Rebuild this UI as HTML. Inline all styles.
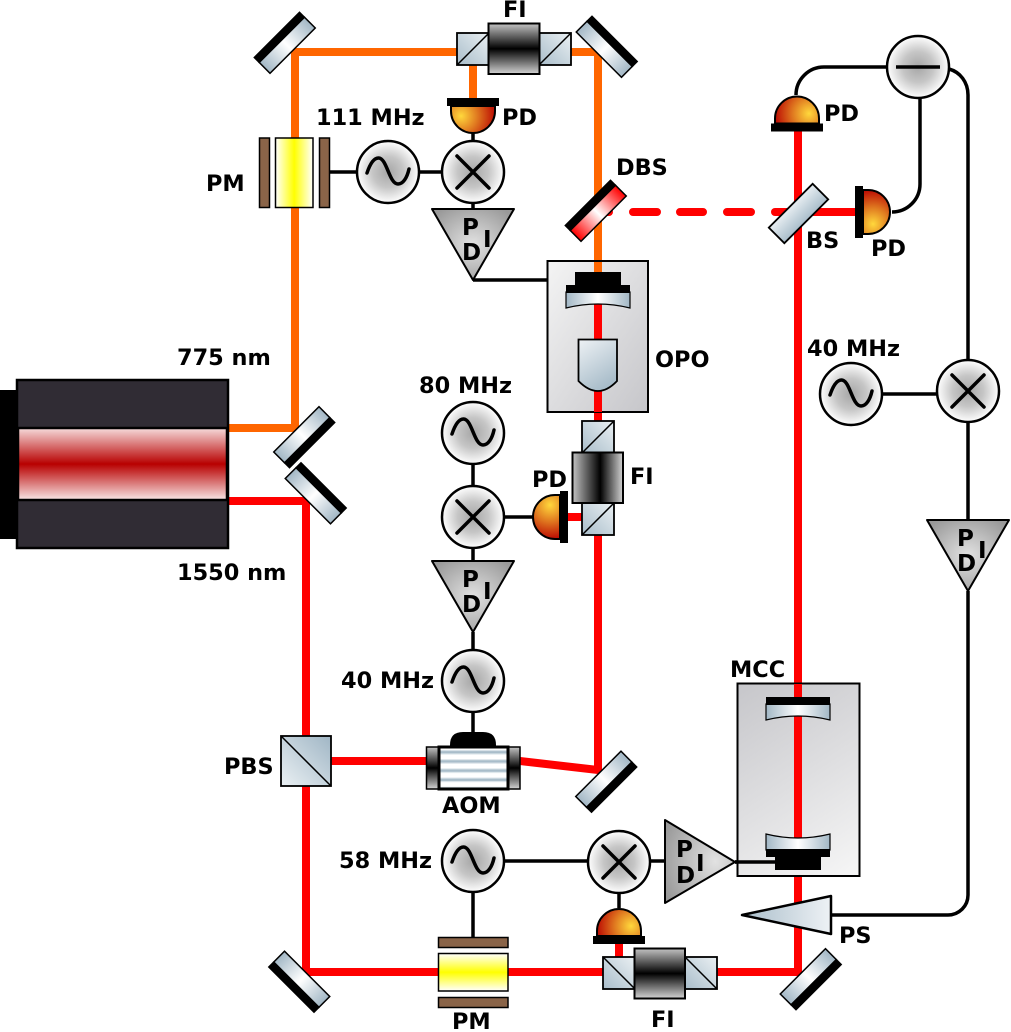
<!DOCTYPE html>
<html><head><meta charset="utf-8"><style>
html,body{margin:0;padding:0;background:#fff}
svg{display:block}
text{font-family:"DejaVu Sans",sans-serif;font-weight:bold;font-size:22.4px;fill:#000}
.pid{font-size:23px}
</style></head><body>
<svg width="1011" height="1032" viewBox="0 0 1011 1032" xmlns="http://www.w3.org/2000/svg">
<defs>
<radialGradient id="cg"><stop offset="0" stop-color="#a6a6a6"/><stop offset=".5" stop-color="#c6c6c6"/><stop offset="1" stop-color="#fff"/></radialGradient>
<linearGradient id="mg"><stop offset="0" stop-color="#a2b7c5"/><stop offset=".5" stop-color="#fff"/><stop offset="1" stop-color="#a2b7c5"/></linearGradient>
<linearGradient id="rg"><stop offset="0" stop-color="#f00"/><stop offset=".5" stop-color="#fff"/><stop offset="1" stop-color="#f00"/></linearGradient>
<linearGradient id="bsg" x1="0" y1="0" x2="0" y2="1"><stop offset="0" stop-color="#e8eef2"/><stop offset="1" stop-color="#a9bdca"/></linearGradient>
<linearGradient id="cube" x1="1" y1="0" x2="0" y2="1"><stop offset="0" stop-color="#eaf0f3"/><stop offset="1" stop-color="#a9bdca"/></linearGradient>
<linearGradient id="pbs" x1="1" y1="0" x2="0" y2="1"><stop offset="0" stop-color="#a0b6c5"/><stop offset="1" stop-color="#eaf0f3"/></linearGradient>
<linearGradient id="lens" x1="0" y1="0" x2=".5" y2="1"><stop offset="0" stop-color="#eef2f5"/><stop offset="1" stop-color="#a9bdca"/></linearGradient>
<linearGradient id="fiv" x1="0" y1="0" x2="0" y2="1"><stop offset="0" stop-color="#c4c4c4"/><stop offset=".5" stop-color="#000"/><stop offset="1" stop-color="#d4d4d4"/></linearGradient>
<linearGradient id="fih"><stop offset="0" stop-color="#c4c4c4"/><stop offset=".55" stop-color="#000"/><stop offset="1" stop-color="#d4d4d4"/></linearGradient>
<radialGradient id="pidg" cx=".5" cy=".5" r=".62"><stop offset="0" stop-color="#e2e2e2"/><stop offset="1" stop-color="#999"/></radialGradient>
<radialGradient id="pidh" cx=".72" cy=".5" r=".8"><stop offset="0" stop-color="#e2e2e2"/><stop offset="1" stop-color="#999"/></radialGradient>
<linearGradient id="opo" x1="0" y1="0" x2="1" y2="1"><stop offset="0" stop-color="#f4f4f4"/><stop offset="1" stop-color="#c6c6ca"/></linearGradient>
<linearGradient id="mcc" gradientUnits="userSpaceOnUse" x1="737" y1="683" x2="859" y2="876"><stop offset="0" stop-color="#c6c6ca"/><stop offset="1" stop-color="#f6f6f6"/></linearGradient>
<linearGradient id="yh"><stop offset="0" stop-color="#fff"/><stop offset=".5" stop-color="#ff0"/><stop offset="1" stop-color="#fff"/></linearGradient>
<linearGradient id="yv" x1="0" y1="0" x2="0" y2="1"><stop offset="0" stop-color="#fff"/><stop offset=".5" stop-color="#ff0"/><stop offset="1" stop-color="#fff"/></linearGradient>
<linearGradient id="las" x1="0" y1="0" x2="0" y2="1"><stop offset="0" stop-color="#f6dcdc"/><stop offset=".5" stop-color="#b80000"/><stop offset="1" stop-color="#f8e6e6"/></linearGradient>
<linearGradient id="ps" x1="0" y1="0" x2="1" y2="0"><stop offset="0" stop-color="#a9bdca"/><stop offset="1" stop-color="#eef2f5"/></linearGradient>
<radialGradient id="pdg" gradientUnits="userSpaceOnUse" cx="-12" cy="14" r="36"><stop offset="0" stop-color="#ffd83c"/><stop offset=".45" stop-color="#e07a20"/><stop offset="1" stop-color="#b80000"/></radialGradient>
<pattern id="stripes" width="10" height="9.2" patternUnits="userSpaceOnUse" y="749"><rect width="10" height="9.2" fill="#fff"/><rect y="2" width="10" height="2.5" fill="#a9bdca"/><rect y="1" width="10" height="1" fill="#d8e2e8"/><rect y="4.5" width="10" height="1" fill="#d8e2e8"/></pattern>
<g id="mir"><rect x="-32" y="-4" width="64" height="15.500" fill="url(#mg)" stroke="#000" stroke-width="1.5"/><rect x="-32.700" y="-11.500" width="65.400" height="8.500" fill="#000"/></g>
<g id="pd"><path d="M-22,4V9A22,22 0 0 0 22,9V4Z" fill="url(#pdg)" stroke="#000" stroke-width="2"/><rect x="-26" y="-4" width="52" height="8" fill="#000"/></g>
<circle id="c" r="31" fill="url(#cg)" stroke="#000" stroke-width="2.5"/>
<g id="osc"><use href="#c"/><path d="M-21,1C-18,-8 -14,-14 -9.5,-14C-1,-14 1,12 10,12C15,12 19,6 21,-3" fill="none" stroke="#000" stroke-width="3.5" stroke-linecap="round"/></g>
<g id="mix"><use href="#c"/><path d="M-16,-16L16,16M16,-16L-16,16" stroke="#000" stroke-width="3.5" stroke-linecap="round"/></g>
<g id="pdv"><path d="M-41,-36H41L0,35Z" fill="url(#pidg)" stroke="#000" stroke-width="2" stroke-linejoin="round"/><text class="pid" x="-11" y="-10">P</text><text class="pid" x="-11" y="15">D</text><text class="pid" x="10" y="2">I</text></g>
<rect id="cu" width="32" height="32" fill="url(#cube)" stroke="#000" stroke-width="1.8"/>
</defs>

<!-- beams -->
<g fill="none" stroke-width="8" stroke-linejoin="miter">
<path d="M228,428H295V52H598V290" stroke="#f60"/>
<path d="M473,52V100" stroke="#f60"/>
<path d="M228,501H306V972H798V128" stroke="#f00"/>
<path d="M598,290V770L520,761" stroke="#f00"/>
<path d="M330,761H430" stroke="#f00"/>
<path d="M568,517H584M619,942V958" stroke="#f00"/>
<path d="M775,212H860" stroke="#f00" stroke-linecap="round"/>
<path d="M606,212H609M633,212H657M680,212H703M727,212H751" stroke="#f00" stroke-linecap="round"/>
</g>

<!-- wires -->
<g fill="none" stroke="#000" stroke-width="3.5">
<path d="M329,172H357M419,172H442M473,133V141M473,203V209"/>
<path d="M473,280H576"/>
<path d="M473,464V486M504,517H533M473,548V561M473,632V650M473,712V733"/>
<path d="M473,892V938M504,861H588M650,861H665M619,893V908M735,862H776"/>
<path d="M883,394H937M968,422V520M968,591V895A20,20 0 0 1 948,915H831"/>
<path d="M949,69C960,72 968,82 968,95V360"/>
<path d="M887,67H824A28,28 0 0 0 796,95"/>
<path d="M892,212A28,28 0 0 0 920,184V98"/>
</g>

<!-- laser -->
<rect x="0" y="390" width="18" height="149" fill="#000"/>
<rect x="17" y="380" width="211" height="168" fill="#302c34" stroke="#000" stroke-width="2.5"/>
<rect x="18" y="428" width="209" height="72" fill="url(#las)" stroke="#000" stroke-width="2.5"/>

<!-- mirrors -->
<use href="#mir" transform="translate(284.5,42.5) rotate(-45)"/>
<use href="#mir" transform="translate(607,46.5) rotate(45)"/>
<use href="#mir" transform="translate(304.5,437.5) rotate(135)"/>
<use href="#mir" transform="translate(316,493) rotate(45)"/>
<use href="#mir" transform="translate(606.5,782) rotate(135)"/>
<use href="#mir" transform="translate(299,982) rotate(-135)"/>
<use href="#mir" transform="translate(811,979.5) rotate(135)"/>
<!-- BS -->
<rect x="-31" y="-11" width="62" height="22" fill="url(#bsg)" stroke="#000" stroke-width="1.8" transform="translate(798.5,213.5) rotate(-45)"/>
<!-- DBS -->
<g transform="translate(595.5,210.5) rotate(-45)"><rect x="-32" y="-4" width="64" height="15.500" fill="url(#rg)" stroke="#000" stroke-width="1.5"/><rect x="-32.700" y="-11.500" width="65.400" height="8.500" fill="#000"/></g>

<!-- FI top -->
<use href="#cu" x="457" y="33"/><path d="M457,65L489,33" stroke="#000" stroke-width="1.5"/>
<use href="#cu" x="539" y="33"/><path d="M539,65L571,33" stroke="#000" stroke-width="1.5"/>
<rect x="488.500" y="23.500" width="51" height="50.500" fill="url(#fiv)" stroke="#000" stroke-width="2"/>

<!-- OPO -->
<rect x="547.500" y="261" width="100.500" height="151" fill="url(#opo)" stroke="#000" stroke-width="2"/>
<path d="M594,262H602V272H594Z" fill="#f60"/>
<path d="M594,300H602V339H594ZM594,391H602V412H594Z" fill="#f00"/>
<rect x="575" y="272" width="46" height="14" fill="#000"/>
<path d="M566,292H630V308Q598,300 566,308Z" fill="url(#mg)" stroke="#000" stroke-width="1.2"/>
<rect x="566" y="285" width="64" height="8" fill="#000"/>
<path d="M578.500,339.500H617V381Q598,401 578.500,381Z" fill="url(#lens)" stroke="#000" stroke-width="1.8"/>

<!-- FI OPO -->
<use href="#cu" x="582" y="421"/><path d="M582,453L614,421" stroke="#000" stroke-width="1.5"/>
<use href="#cu" x="582" y="503"/><path d="M582,535L614,503" stroke="#000" stroke-width="1.5"/>
<rect x="572.500" y="452.500" width="50.500" height="50.500" fill="url(#fih)" stroke="#000" stroke-width="2"/>

<!-- PM top -->
<rect x="259.500" y="138" width="10" height="69.500" fill="#8a6448" stroke="#000" stroke-width="1.5"/>
<rect x="275.500" y="138" width="37.500" height="69.500" fill="url(#yh)" stroke="#000" stroke-width="1.5"/>
<rect x="319.500" y="138" width="10" height="69.500" fill="#8a6448" stroke="#000" stroke-width="1.5"/>
<!-- PM bottom -->
<rect x="438.500" y="937.500" width="69.500" height="10" fill="#8a6448" stroke="#000" stroke-width="1.5"/>
<rect x="438.500" y="953.500" width="69.500" height="37.500" fill="url(#yv)" stroke="#000" stroke-width="1.5"/>
<rect x="438.500" y="997.500" width="69.500" height="10" fill="#8a6448" stroke="#000" stroke-width="1.5"/>

<!-- PBS -->
<rect x="281" y="736" width="50" height="50" fill="url(#pbs)" stroke="#000" stroke-width="1.8"/>
<path d="M281,736L331,786" stroke="#000" stroke-width="1.5"/>

<!-- AOM -->
<path d="M450,746V745Q450,732 463,732H483Q496,732 496,745V746Z" fill="#000"/>
<rect x="426.500" y="747" width="13" height="42" fill="url(#fiv)" stroke="#000" stroke-width="1.5"/>
<rect x="507" y="747" width="13" height="42" fill="url(#fiv)" stroke="#000" stroke-width="1.5"/>
<rect x="439" y="747" width="69" height="42" fill="url(#stripes)" stroke="#000" stroke-width="3"/>

<!-- MCC -->
<rect x="737.500" y="683.500" width="122" height="192.500" fill="url(#mcc)" stroke="#000" stroke-width="2"/>
<path d="M794,684H802V870H794Z" fill="#f00"/>
<path d="M766,704H830V720Q798,712 766,720Z" fill="url(#mg)" stroke="#000" stroke-width="1.2"/>
<rect x="766" y="697" width="64" height="8" fill="#000"/>
<path d="M766,834Q798,842 830,834V850H766Z" fill="url(#mg)" stroke="#000" stroke-width="1.2"/>
<rect x="766" y="849" width="64" height="8" fill="#000"/>
<rect x="775" y="857" width="46" height="13" fill="#000"/>
<path d="M735,862H776" stroke="#000" stroke-width="3.5"/>

<!-- PS -->
<path d="M742,915L831,896V934Z" fill="url(#ps)" stroke="#000" stroke-width="2.5" stroke-linejoin="round"/>

<!-- FI bottom -->
<use href="#cu" x="603" y="957"/><path d="M603,957L635,989" stroke="#000" stroke-width="1.5"/>
<use href="#cu" x="685" y="957"/><path d="M685,957L717,989" stroke="#000" stroke-width="1.5"/>
<rect x="634.500" y="948.500" width="50.500" height="50" fill="url(#fiv)" stroke="#000" stroke-width="2"/>

<!-- PDs -->
<use href="#pd" transform="translate(473,102)"/>
<use href="#pd" transform="translate(564,517) rotate(90)"/>
<use href="#pd" transform="translate(797,127.500) rotate(180)"/>
<use href="#pd" transform="translate(859,212) rotate(-90)"/>
<use href="#pd" transform="translate(619,940) rotate(180)"/>

<!-- circles -->
<use href="#osc" x="388" y="172"/>
<use href="#mix" x="473" y="172"/>
<use href="#osc" x="473" y="433"/>
<use href="#mix" x="473" y="517"/>
<use href="#osc" x="473" y="681"/>
<use href="#osc" x="473" y="861"/>
<use href="#mix" x="619" y="862"/>
<use href="#osc" x="851" y="394"/>
<use href="#mix" x="968" y="391"/>
<use href="#c" x="918" y="67"/>
<path d="M896,67H940" stroke="#000" stroke-width="3.5"/>

<!-- PID -->
<use href="#pdv" x="473" y="245"/>
<use href="#pdv" x="473" y="597"/>
<use href="#pdv" x="968" y="556"/>
<path d="M665,820V903L735,862Z" fill="url(#pidh)" stroke="#000" stroke-width="2" stroke-linejoin="round"/>
<text class="pid" x="676" y="857">P</text><text class="pid" x="676" y="883">D</text><text class="pid" x="696" y="871">I</text>

<!-- labels -->
<text x="503" y="17">FI</text>
<text x="316" y="125">111 MHz</text>
<text x="502" y="125">PD</text>
<text x="206" y="191">PM</text>
<text x="616" y="175">DBS</text>
<text x="824" y="121">PD</text>
<text x="806" y="248">BS</text>
<text x="871" y="256">PD</text>
<text x="177" y="365">775 nm</text>
<text x="177" y="580">1550 nm</text>
<text x="655" y="367">OPO</text>
<text x="807" y="356">40 MHz</text>
<text x="419" y="393">80 MHz</text>
<text x="532" y="487">PD</text>
<text x="630" y="484">FI</text>
<text x="341" y="688">40 MHz</text>
<text x="730" y="677">MCC</text>
<text x="224" y="774">PBS</text>
<text x="442" y="813">AOM</text>
<text x="339" y="868">58 MHz</text>
<text x="839" y="943">PS</text>
<text x="452" y="1029">PM</text>
<text x="651" y="1027">FI</text>
</svg>
</body></html>
